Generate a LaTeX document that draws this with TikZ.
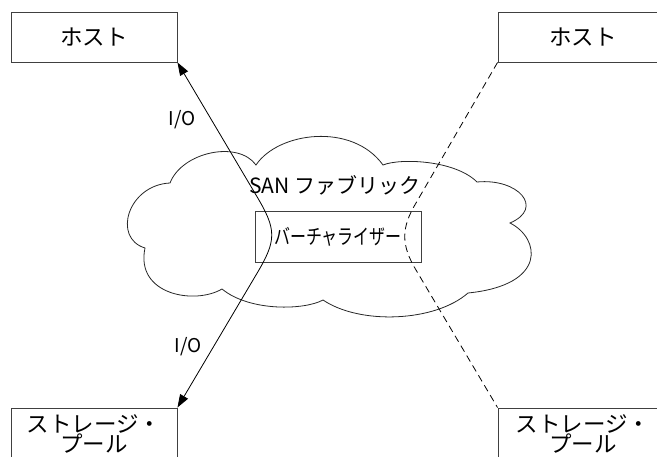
\documentclass[tikz,border=0pt]{standalone}
\usepackage{fontspec}
\usepackage{graphicx}
\setmainfont{Noto Sans CJK JP}
\usetikzlibrary{arrows.meta}
\begin{document}
\begin{tikzpicture}[x=1pt,y=-1pt,
  box/.style={draw=black!75, line width=0.9pt, rectangle, inner sep=0pt, align=center,
    font=\fontsize{22.5}{20.5}\selectfont},
  lbl/.style={inner sep=0pt, font=\fontsize{21}{21}\selectfont},
  ln/.style={line width=0.8pt, black},
  arr/.style={ln, {Triangle[length=13pt,width=9pt]}-{Triangle[length=13pt,width=9pt]}},
  dsh/.style={ln, dash pattern=on 7pt off 4.5pt},
  cloudline/.style={line width=0.8pt, black!85},
]
\useasboundingbox (0,0) rectangle (657,457);
\clip (0,0) rectangle (657,457);

% cloud
\draw[cloudline] (170,183)
  .. controls (182,152) and (238,140) .. (256,165)
  .. controls (278,132) and (352,122) .. (383,165)
  .. controls (400,158) and (455,160) .. (477,182)
  .. controls (518,178) and (545,208) .. (510,223)
  .. controls (540,238) and (548,285) .. (468,293)
  .. controls (435,322) and (360,325) .. (323,300)
  .. controls (305,310) and (250,312) .. (222,289)
  .. controls (195,305) and (135,295) .. (145,248)
  .. controls (112,238) and (128,185) .. cycle;

% boxes
\node[box, minimum width=166pt, minimum height=50pt] (hostL) at (94,37) {ホスト};
\node[box, minimum width=170pt, minimum height=50pt] (hostR) at (583,37) {ホスト};
\node[box, minimum width=166pt, minimum height=52pt] (storL) at (94,434) {ストレージ・\\プール};
\node[box, minimum width=170pt, minimum height=52pt] (storR) at (583,434) {ストレージ・\\プール};
\node[box, minimum width=166pt, minimum height=51pt, font=\fontsize{21}{21}\selectfont] (virt) at (338,236.5) {\scalebox{0.76}[1]{バーチャライザー}};

% labels
\node[lbl] (san) at (335,185) {SAN ファブリック};
\node[lbl, font=\fontsize{19}{19}\selectfont] (io1) at (182,120) {I/O};
\node[lbl, font=\fontsize{19}{19}\selectfont] (io2) at (188,347) {I/O};

% solid connection
\coordinate (s1) at (256,195);
\coordinate (s2) at (256,275);
\draw[arr] (hostL.south east) -- (s1) .. controls (277,230) and (277,240) .. (s2) -- (storL.north east);

% dashed connection
\coordinate (d1) at (416,203);
\coordinate (d2) at (416,270);
\draw[dsh] (hostR.south west) -- (d1) .. controls (401,228) and (401,245) .. (d2) -- (storR.north west);
\end{tikzpicture}
\end{document}
